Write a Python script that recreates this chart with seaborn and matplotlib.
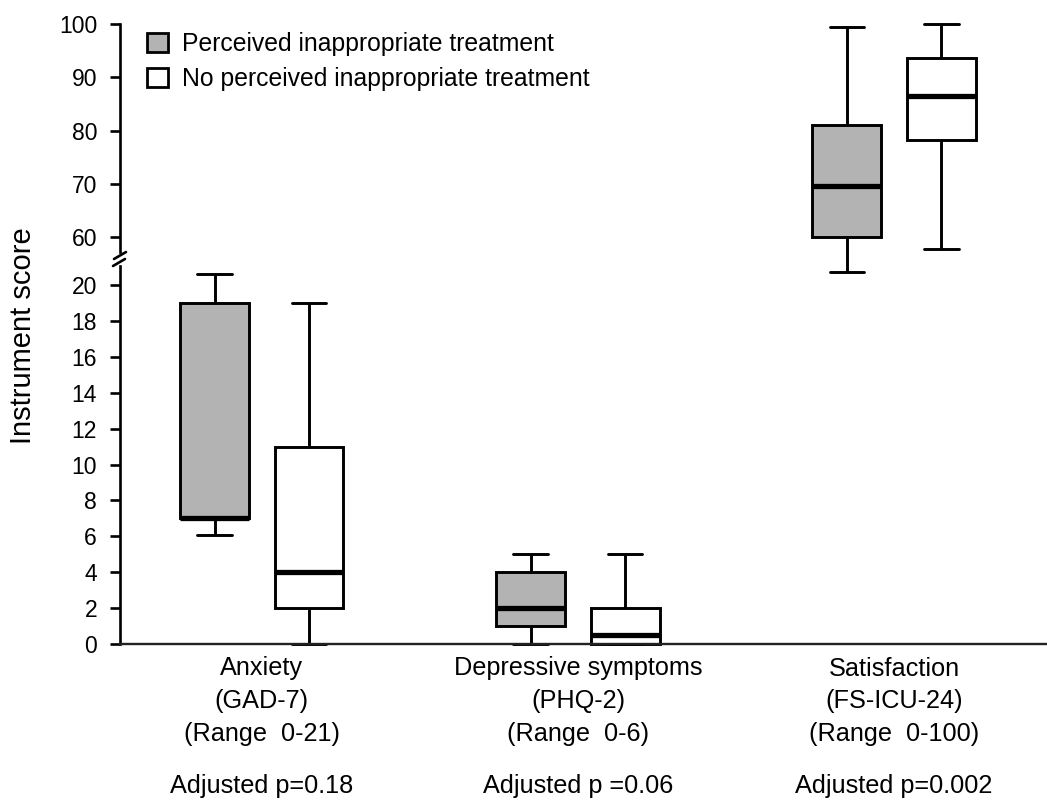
import pandas as pd
import matplotlib.pyplot as plt
import seaborn as sns
from matplotlib.patches import Patch
from matplotlib.lines import Line2D
from matplotlib.transforms import blended_transform_factory

# data: five-number summaries (min, Q1, median, Q3, max)
measures = ['Anxiety\n(GAD-7)\n(Range  0-21)',
            'Depressive symptoms\n(PHQ-2)\n(Range  0-6)',
            'Satisfaction\n(FS-ICU-24)\n(Range  0-100)']
p_labels = ['Adjusted p=0.18', 'Adjusted p =0.06', 'Adjusted p=0.002']
groups = ['Perceived inappropriate treatment', 'No perceived inappropriate treatment']
colors = ['#b3b3b3', 'white']

anxiety_pit = [6.1, 7.0, 7.0, 19.0, 20.6]
anxiety_no = [0.0, 2.0, 4.0, 11.0, 19.0]
depression_pit = [0.0, 1.0, 2.0, 4.0, 5.0]
depression_no = [0.0, 0.0, 0.5, 2.0, 5.0]
satisfaction_pit = [53.5, 60.0, 69.6, 81.0, 99.4]
satisfaction_no = [57.7, 78.2, 86.5, 93.7, 100.0]

summaries = {
    (measures[0], groups[0]): anxiety_pit,
    (measures[0], groups[1]): anxiety_no,
    (measures[1], groups[0]): depression_pit,
    (measures[1], groups[1]): depression_no,
    (measures[2], groups[0]): satisfaction_pit,
    (measures[2], groups[1]): satisfaction_no,
}
# 5 values -> percentiles 0/25/50/75/100 land exactly on them
rows = [(m, g, v) for (m, g), vals in summaries.items() for v in vals]
df = pd.DataFrame(rows, columns=['measure', 'group', 'score'])

sns.set_style('ticks')
plt.rcParams['font.family'] = ['Liberation Sans', 'DejaVu Sans']
for key in ['text.color', 'axes.labelcolor', 'xtick.color', 'ytick.color']:
    plt.rcParams[key] = 'black'

W, H = 1047, 802
fig = plt.figure(figsize=(W / 100, H / 100), dpi=100)


def px_axes(left, right, top, bottom):
    return fig.add_axes([left / W, 1 - bottom / H, (right - left) / W, (bottom - top) / H])


# lower panel 0-21 (0 at y=644, 17.95 px per unit), upper panel 52-101 (100 at y=24, 5.325 px per unit)
ax_low = px_axes(120, 1047, 644 - 21.3 * 17.95, 644 + 0.15 * 17.95)
ax_up = px_axes(120, 1047, 24 - 1 * 5.325, 24 + 48 * 5.325)

for ax in (ax_low, ax_up):
    ax.set_facecolor('none')
    sns.boxplot(data=df, x='measure', y='score', hue='group',
                order=measures, hue_order=groups, palette=colors, saturation=1,
                width=0.6, gap=0.28, whis=(0, 100), showfliers=False,
                linecolor='black', linewidth=2.1,
                medianprops=dict(linewidth=3.8),
                legend=False, ax=ax)
    ax.set_xlim(-0.449, 2.484)
    ax.set_xlabel('')
    ax.set_ylabel('')
    ax.spines['top'].set_visible(False)
    ax.spines['right'].set_visible(False)
    ax.spines['left'].set_linewidth(1.9)
    ax.spines['left'].set_color('black')
    ax.tick_params(axis='y', direction='out', length=7.5, width=1.9,
                   labelsize=16.5, pad=9, colors='black')

ax_low.set_ylim(-0.15, 21.3)
ax_low.set_yticks(range(0, 21, 2))
ax_low.spines['left'].set_bounds(0, 21.06)
ax_low.spines['bottom'].set_position(('data', 0))
ax_low.spines['bottom'].set_linewidth(1.7)
ax_low.spines['bottom'].set_color('#222222')
ax_low.tick_params(axis='x', length=0, pad=9, labelsize=18.2)
for lbl in ax_low.get_xticklabels():
    lbl.set_linespacing(1.45)

ax_up.set_ylim(52, 101)
ax_up.set_yticks(range(60, 101, 10))
ax_up.spines['left'].set_bounds(57.2, 100)
ax_up.spines['bottom'].set_visible(False)
ax_up.tick_params(axis='x', bottom=False, labelbottom=False)

# p-values under the category labels
trans = blended_transform_factory(ax_low.transData, fig.transFigure)
for i, txt in enumerate(p_labels):
    ax_low.text(i, 1 - 786 / H, txt, transform=trans, ha='center', va='center', fontsize=18.2)

# axis break marks
for (x0, y0, x1, y1) in [(114, 259, 126, 252), (113, 266, 125, 259)]:
    fig.add_artist(Line2D([x0 / W, x1 / W], [1 - y0 / H, 1 - y1 / H],
                          transform=fig.transFigure, color='black', lw=1.9))

fig.text(23 / W, 1 - 336 / H, 'Instrument score', rotation=90,
         ha='center', va='center', fontsize=21)

handles = [Patch(facecolor=c, edgecolor='black', linewidth=2) for c in colors]
fig.legend(handles, groups, loc='upper left', bbox_to_anchor=(147 / W, 1 - 32 / H),
           frameon=False, fontsize=17.8, handlelength=0.85, handleheight=0.85,
           handletextpad=0.55, labelspacing=0.45, borderpad=0, borderaxespad=0)

plt.savefig('out.png', dpi=100)
